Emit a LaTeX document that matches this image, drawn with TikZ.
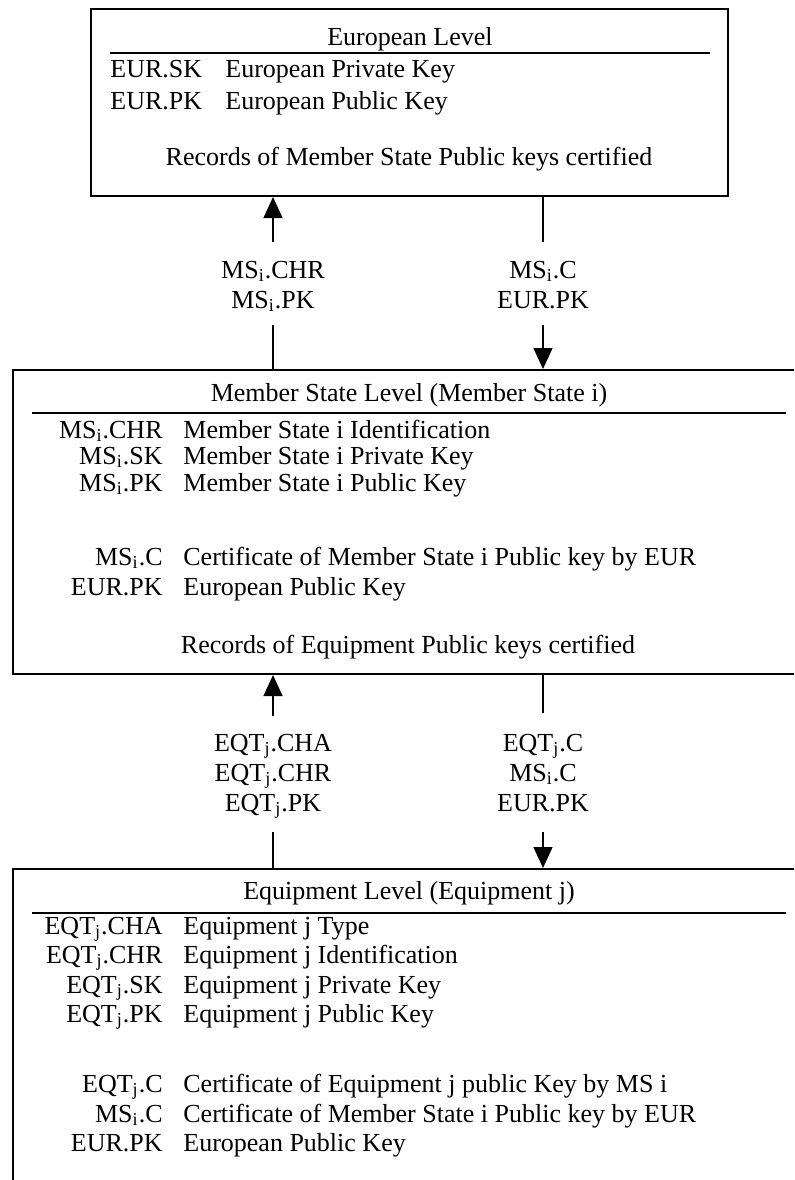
\documentclass[tikz,border=0pt]{standalone}
\usepackage{fontspec}
\setmainfont{Liberation Serif}
\usepackage{xcolor}
\usepackage{tikz}
\usetikzlibrary{arrows.meta}
\newcommand{\MSi}{MS\textsubscript{i}}
\newcommand{\EQTj}{EQT\textsubscript{j}}

\begin{document}
\begin{tikzpicture}[x=0.5pt, y=-0.5pt,
  >={Triangle[width=9.5pt,length=10.5pt]},
  font=\fontsize{13}{15}\selectfont,
  ebene/.style={draw, line width=1pt, anchor=north west, inner sep=0pt},
  kuerzel/.style={anchor=base east, inner sep=0pt},
  kuerzelL/.style={anchor=base west, inner sep=0pt},
  beschr/.style={anchor=base west, inner sep=0pt},
  mitte/.style={anchor=base, inner sep=0pt},
  linie/.style={line width=0.65pt}]
  \useasboundingbox (0,0) rectangle (794,1180);
  \clip (0,0) rectangle (794,1180);

  % Europaeische Ebene
  \node[ebene, minimum width=318.5pt, minimum height=93.5pt] (eur) at (90,8) {};
  \node[mitte] (eurtitel) at (410,45) {European Level};
  \draw[line width=1pt] (110,53) -- (710,53);
  \node[kuerzelL] (eursk) at (110,77) {EUR.SK};
  \node[beschr] (eurskb) at (225,77) {European Private Key};
  \node[kuerzelL] (eurpk) at (110,109) {EUR.PK};
  \node[beschr] (eurpkb) at (225,109) {European Public Key};
  \node[mitte] (eurrec) at (409,165) {Records of Member State Public keys certified};

  % Pfeile Europa <-> Mitgliedstaat
  \coordinate (a1) at (273,242);
  \coordinate (a2) at (273,325);
  \draw[linie, ->] (a1) -- (a1 |- eur.south);
  \node[mitte] (a1t) at (273,278) {\MSi.CHR};
  \node[mitte] (a1u) at (273,308) {\MSi.PK};

  \coordinate (b1) at (543,242);
  \coordinate (b2) at (543,325);
  \draw[linie] (b1) -- (b1 |- eur.south);
  \node[mitte] (b1t) at (543,278) {\MSi.C};
  \node[mitte] (b1u) at (543,308) {EUR.PK};

  % Ebene Mitgliedstaat
  \node[ebene, minimum width=404pt, minimum height=152pt] (ms) at (12,369) {};
  \draw[linie, ->] (b2) -- (b2 |- ms.north);
  \draw[linie] (a2) -- (a2 |- ms.north);
  \node[mitte] (mstitel) at (409,401) {Member State Level (Member State i)};
  \draw[line width=1pt] (32,413) -- (786,413);
  \node[kuerzel] (mschr) at (163,438) {\MSi.CHR};
  \node[beschr] (mschrb) at (183,438) {Member State i Identification};
  \node[kuerzel] (mssk) at (163,464) {\MSi.SK};
  \node[beschr] (msskb) at (183,464) {Member State i Private Key};
  \node[kuerzel] (mspk) at (163,491) {\MSi.PK};
  \node[beschr] (mspkb) at (183,491) {Member State i Public Key};
  \node[kuerzel] (msc) at (163,565) {\MSi.C};
  \node[beschr] (mscb) at (183,565) {Certificate of Member State i Public key by EUR};
  \node[kuerzel] (mseur) at (163,595) {EUR.PK};
  \node[beschr] (mseurb) at (183,595) {European Public Key};
  \node[mitte] (msrec) at (408,653) {Records of Equipment Public keys certified};

  % Pfeile Mitgliedstaat <-> Geraet
  \coordinate (c1) at (273,716);
  \coordinate (c2) at (273,832);
  \draw[linie, ->] (c1) -- (c1 |- ms.south);
  \node[mitte] (c1t) at (273,751) {\EQTj.CHA};
  \node[mitte] (c1u) at (273,781) {\EQTj.CHR};
  \node[mitte] (c1v) at (273,811) {\EQTj.PK};

  \coordinate (d1) at (543,713);
  \coordinate (d2) at (543,832);
  \draw[linie] (d1) -- (d1 |- ms.south);
  \node[mitte] (d1t) at (543,751) {\EQTj.C};
  \node[mitte] (d1u) at (543,781) {\MSi.C};
  \node[mitte] (d1v) at (543,811) {EUR.PK};

  % Geraete-Ebene
  \node[ebene, minimum width=404pt, minimum height=170pt] (eqt) at (12,868) {};
  \draw[linie] (c2) -- (c2 |- eqt.north);
  \draw[linie, ->] (d2) -- (d2 |- eqt.north);
  \node[mitte] (eqttitel) at (409,899) {Equipment Level (Equipment j)};
  \draw[line width=1pt] (32,913) -- (786,913);
  \node[kuerzel] (eqtcha) at (163,934) {\EQTj.CHA};
  \node[beschr] (eqtchab) at (183,934) {Equipment j Type};
  \node[kuerzel] (eqtchr) at (163,963) {\EQTj.CHR};
  \node[beschr] (eqtchrb) at (183,963) {Equipment j Identification};
  \node[kuerzel] (eqtsk) at (163,993) {\EQTj.SK};
  \node[beschr] (eqtskb) at (183,993) {Equipment j Private Key};
  \node[kuerzel] (eqtpk) at (163,1022) {\EQTj.PK};
  \node[beschr] (eqtpkb) at (183,1022) {Equipment j Public Key};
  \node[kuerzel] (eqtc) at (163,1092) {\EQTj.C};
  \node[beschr] (eqtcb) at (183,1092) {Certificate of Equipment j public Key by MS i};
  \node[kuerzel] (eqtms) at (163,1122) {\MSi.C};
  \node[beschr] (eqtmsb) at (183,1122) {Certificate of Member State i Public key by EUR};
  \node[kuerzel] (eqteur) at (163,1151) {EUR.PK};
  \node[beschr] (eqteurb) at (183,1151) {European Public Key};
\end{tikzpicture}
\end{document}
